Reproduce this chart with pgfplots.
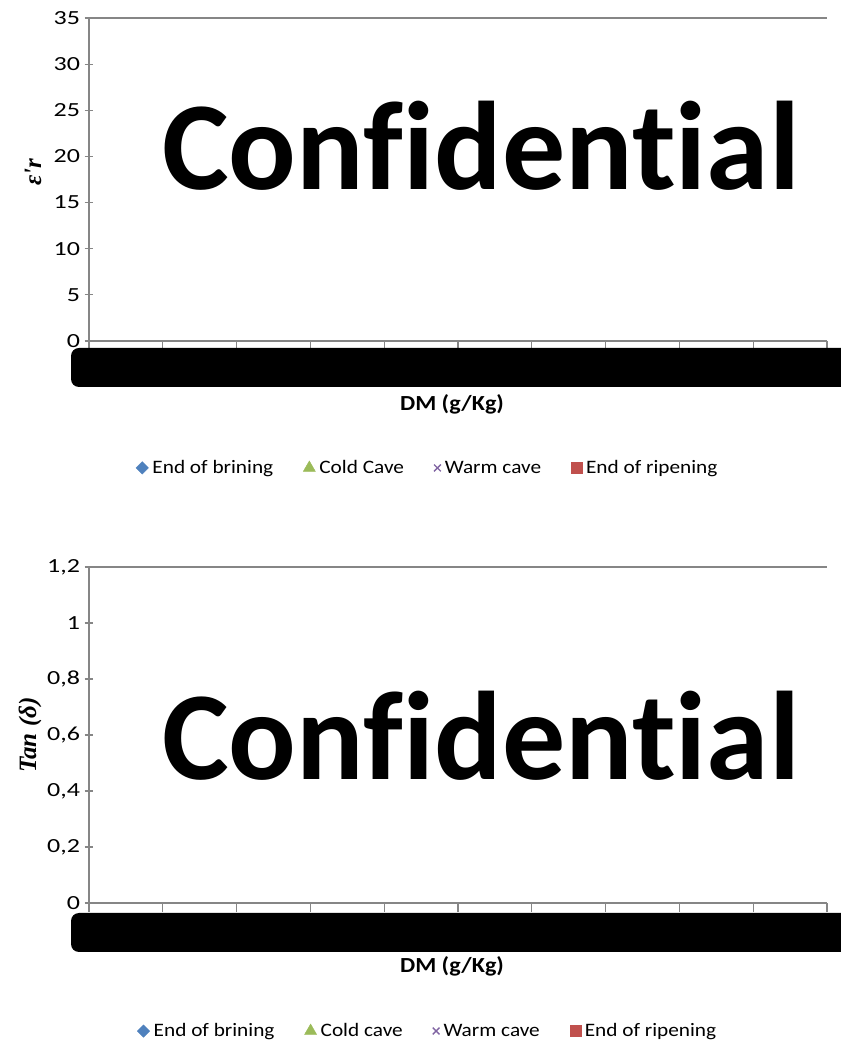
\documentclass[border=0pt]{standalone}
\usepackage{fontspec}
\setmainfont{Carlito}[Ligatures=NoCommon]
\newfontfamily\chartfont{Carlito}[FakeStretch=1.12, Ligatures=NoCommon]
\newfontfamily\tickfont{Carlito}[FakeStretch=1.3, Ligatures=NoCommon]
\newfontfamily\mathlike{Liberation Serif}
\usepackage{pgfplots}
\pgfplotsset{compat=1.18}
\definecolor{cblue}{HTML}{4F81BD}
\definecolor{cgreen}{HTML}{9BBB59}
\definecolor{cpurple}{HTML}{8064A2}
\definecolor{cred}{HTML}{C0504D}
\definecolor{axgray}{HTML}{868686}
\pgfplotsset{
  mystyle/.style={
    scale only axis,
    width=738bp,
    anchor=origin,
    axis lines=left,
    axis line style={-, draw=axgray, line width=1.2pt},
    xmin=0, xmax=10,
    xtick={0,1,...,10},
    xticklabels={},
    xtick align=outside,
    ytick align=center,
    major tick length=9bp,
    x tick style={draw=axgray, line width=1.2pt},
    y tick style={draw=axgray, line width=1.2pt},
    tick label style={font=\tickfont\fontsize{20bp}{23bp}\selectfont},
    /pgf/number format/assume math mode=true,
    /pgf/number format/use comma,
    yticklabel style={xshift=-1bp},
    legend columns=4,
    legend style={draw=none, fill=none, font=\chartfont\fontsize{19bp}{22bp}\selectfont,
      anchor=center, inner sep=0pt,
      /tikz/every odd column/.append style={column sep=2bp},
      /tikz/every even column/.append style={column sep=28bp}},
    legend cell align=left,
    clip=false,
  },
  ldiam/.style={only marks, mark=square*, mark size=4.4bp, mark options={rotate=45}, color=cblue},
  ltri/.style={only marks, mark=triangle*, mark size=7bp, color=cgreen},
  lx/.style={only marks, mark=x, mark size=4.8bp, color=cpurple, line width=1.3pt},
  lsq/.style={only marks, mark=square*, mark size=5.5bp, color=cred},
}
\begin{document}
\begin{tikzpicture}
\useasboundingbox (0,0) rectangle (841bp,1042bp);
% top axis
\begin{axis}[mystyle,
  at={(89bp,701bp)}, height=323bp,
  ymin=0, ymax=35, ytick={0,5,...,35},
  legend style={at={(axis description cs:0.459,-0.393)}},
]
\addlegendimage{ldiam}
\addlegendentry{End of brining}
\addlegendimage{ltri}
\addlegendentry{Cold Cave}
\addlegendimage{lx}
\addlegendentry{Warm cave}
\addlegendimage{lsq}
\addlegendentry{End of ripening}
\draw[axgray, line width=1.2pt] (axis cs:0,35) -- (axis cs:10,35);
\end{axis}
% bottom axis
\begin{axis}[mystyle,
  at={(89bp,139bp)}, height=336bp,
  ymin=0, ymax=1.2, ytick={0,0.2,...,1.2},
  legend style={at={(axis description cs:0.459,-0.381)}},
]
\addlegendimage{ldiam}
\addlegendentry{End of brining}
\addlegendimage{ltri}
\addlegendentry{Cold cave}
\addlegendimage{lx}
\addlegendentry{Warm cave}
\addlegendimage{lsq}
\addlegendentry{End of ripening}
\draw[axgray, line width=1.2pt] (axis cs:0,1.2) -- (axis cs:10,1.2);
\end{axis}
% y labels
\node[rotate=90] at (33bp,870bp) {\mathlike\bfseries\itshape\fontsize{25bp}{28bp}\selectfont ε'r};
\node[rotate=90] at (30bp,307bp) {\mathlike\bfseries\itshape\fontsize{25bp}{28bp}\selectfont Tan (δ)};
% x labels
\node at (452bp,638bp) {\chartfont\bfseries\fontsize{21.5bp}{24bp}\selectfont DM (g/Kg)};
\node at (452bp,76bp) {\chartfont\bfseries\fontsize{21.5bp}{24bp}\selectfont DM (g/Kg)};
% redaction bars
\fill[black, rounded corners=8bp] (71bp,655bp) rectangle (880bp,694bp);
\fill[black, rounded corners=8bp] (71bp,90bp) rectangle (880bp,129bp);
% confidential stamps
\node[anchor=base, inner sep=0pt] at (481bp,852bp) {\bfseries\fontsize{126bp}{130bp}\selectfont Conf\kern0pt identi\kern0pt al};
\node[anchor=base, inner sep=0pt] at (481bp,262bp) {\bfseries\fontsize{126bp}{130bp}\selectfont Conf\kern0pt identi\kern0pt al};
\end{tikzpicture}
\end{document}
